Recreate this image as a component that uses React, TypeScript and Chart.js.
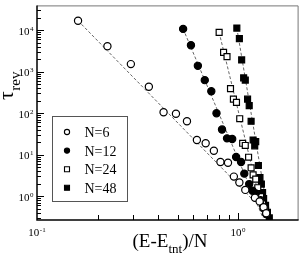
import React, { useEffect, useRef } from "react";
import { Chart, registerables } from "chart.js";
Chart.register(...registerables);

// ---- data ----
const seriesLabels = ["N=6", "N=12", "N=24", "N=48"];

const n6X = [0.16, 0.224, 0.293, 0.36, 0.426, 0.491, 0.557, 0.624, 0.69, 0.758, 0.817, 0.891, 0.953, 1.015, 1.086, 1.213, 1.28, 1.34, 1.38];
const n6Y = [17000, 4140, 1530, 437, 106, 97, 64, 22.7, 18.9, 12.5, 6.7, 6.4, 2.97, 2.14, 1.42, 0.92, 0.75, 0.54, 0.39];

const n12X = [0.533, 0.583, 0.631, 0.683, 0.736, 0.781, 0.832, 0.881, 0.935, 0.978, 1.035, 1.074, 1.136, 1.18, 1.224, 1.295, 1.34, 1.38];
const n12Y = [10800, 4370, 1390, 628, 338, 100, 40.5, 24.8, 24, 8.8, 6.7, 3.5, 1.96, 1.36, 1.16, 0.8, 0.51, 0.37];

const n24X = [0.805, 0.847, 0.881, 0.917, 0.948, 0.982, 1.019, 1.054, 1.086, 1.128, 1.161, 1.188, 1.224, 1.253, 1.295, 1.324, 1.37];
const n24Y = [8870, 2940, 2320, 392, 219, 183, 73.8, 18.9, 16.7, 8.7, 4.85, 3.26, 2.58, 1.6, 0.98, 0.67, 0.46];

const n48X = [0.986, 1.015, 1.042, 1.066, 1.086, 1.115, 1.136, 1.161, 1.188, 1.224, 1.21, 1.262, 1.285, 1.306, 1.324, 1.34, 1.37, 1.4, 1.43];
const n48Y = [11300, 6300, 1930, 713, 628, 219, 153, 64, 22.7, 20.7, 16.4, 5.5, 2.81, 1.96, 1.22, 0.88, 0.6, 0.41, 0.3];

const fit6X = [0.16, 1.45];
const fit6Y = [17000, 0.3];
const fit12X = [0.533, 1.33];
const fit12Y = [10800, 0.3];
const fit24X = [0.805, 1.35];
const fit24Y = [8870, 0.3];
const fit48X = [0.986, 1.42];
const fit48Y = [11300, 0.3];

const xMin = 0.1;
const xMax = 2;
const yMin = 0.267;
const yMax = 39800;
const xDecades = [-1, 0];
const yDecades = [-1, 0, 1, 2, 3, 4];

const SERIF = "'Liberation Serif', 'Times New Roman', serif";

const pts = (xs: number[], ys: number[]) => xs.map((x, i) => ({ x, y: ys[i] }));

const markerStyles = [
  { style: "circle", fill: "#ffffff", r: 3.6 },
  { style: "circle", fill: "#000000", r: 3.6 },
  { style: "rect", fill: "#ffffff", r: 4.2 },
  { style: "rect", fill: "#000000", r: 4.2 },
];

function drawPow(ctx: CanvasRenderingContext2D, x: number, baseY: number, exp: string, align: "center" | "right") {
  ctx.font = `11px ${SERIF}`;
  const wb = ctx.measureText("10").width;
  ctx.font = `7px ${SERIF}`;
  const we = ctx.measureText(exp).width;
  const total = wb + we + 0.5;
  const start = align === "center" ? x - total / 2 : x - total;
  ctx.textAlign = "left";
  ctx.textBaseline = "alphabetic";
  ctx.font = `11px ${SERIF}`;
  ctx.fillText("10", start, baseY);
  ctx.font = `7px ${SERIF}`;
  ctx.fillText(exp, start + wb + 0.5, baseY - 4);
}

const decoPlugin = {
  id: "deco",
  afterDraw(chart: any) {
    const ctx: CanvasRenderingContext2D = chart.ctx;
    const { left, right, top, bottom } = chart.chartArea;
    const xs = chart.scales.x;
    const ys = chart.scales.y;
    ctx.save();
    // frame
    ctx.strokeStyle = "#777";
    ctx.lineWidth = 1;
    ctx.beginPath();
    ctx.moveTo(left, top + 0.5);
    ctx.lineTo(right - 0.5, top + 0.5);
    ctx.lineTo(right - 0.5, bottom);
    ctx.stroke();
    ctx.strokeStyle = "#000";
    ctx.lineWidth = 1.5;
    ctx.beginPath();
    ctx.moveTo(left, top);
    ctx.lineTo(left, bottom);
    ctx.lineTo(right, bottom);
    ctx.stroke();
    // ticks
    ctx.lineWidth = 1;
    ctx.strokeStyle = "#000";
    ctx.beginPath();
    for (const d of xDecades) {
      for (let m = 1; m <= 9; m++) {
        const v = m * Math.pow(10, d);
        if (v <= xMin || v >= xMax) continue;
        const px = Math.round(xs.getPixelForValue(v)) + 0.5;
        const len = m === 1 ? 7 : 5;
        ctx.moveTo(px, bottom);
        ctx.lineTo(px, bottom - len);
      }
    }
    for (const d of yDecades) {
      for (let m = 1; m <= 9; m++) {
        const v = m * Math.pow(10, d);
        if (v <= yMin || v >= yMax) continue;
        const py = Math.round(ys.getPixelForValue(v)) + 0.5;
        const len = m === 1 ? 7 : 4;
        ctx.moveTo(left, py);
        ctx.lineTo(left + len, py);
      }
    }
    ctx.stroke();
    // tick labels
    ctx.fillStyle = "#000";
    for (const d of xDecades) {
      const v = Math.pow(10, d);
      const px = xs.getPixelForValue(v);
      drawPow(ctx, px, 235.5, String(d), "center");
    }
    for (const d of yDecades) {
      const v = Math.pow(10, d);
      if (v < yMin || v > yMax) continue;
      const py = ys.getPixelForValue(v);
      drawPow(ctx, 33.5, py + 4.5, String(d), "right");
    }
    // x title
    ctx.textAlign = "left";
    ctx.textBaseline = "alphabetic";
    ctx.font = `19px ${SERIF}`;
    const p1 = "(E-E";
    const p3 = ")/N";
    const w1 = ctx.measureText(p1).width;
    const w3 = ctx.measureText(p3).width;
    ctx.font = `13px ${SERIF}`;
    const w2 = ctx.measureText("tnt").width;
    const tot = w1 + w2 + w3;
    let sx = 170 - tot / 2;
    ctx.font = `19px ${SERIF}`;
    ctx.fillText(p1, sx, 246.5);
    ctx.font = `13px ${SERIF}`;
    ctx.fillText("tnt", sx + w1, 252.5);
    ctx.font = `19px ${SERIF}`;
    ctx.fillText(p3, sx + w1 + w2, 246.5);
    // y title
    ctx.save();
    ctx.translate(13, 100);
    ctx.rotate(-Math.PI / 2);
    ctx.font = `22px ${SERIF}`;
    const wt = ctx.measureText("τ").width;
    ctx.fillText("τ", 0, 0);
    ctx.font = `15px ${SERIF}`;
    ctx.fillText("rev", wt + 0.5, 6.5);
    ctx.restore();
    // legend
    ctx.strokeStyle = "#555";
    ctx.lineWidth = 1;
    ctx.fillStyle = "#fff";
    ctx.fillRect(52.5, 116.5, 75, 85);
    ctx.strokeRect(52.5, 116.5, 75, 85);
    seriesLabels.forEach((lab, i) => {
      const cy = 132 + i * 18.6;
      const ms = markerStyles[i];
      ctx.fillStyle = ms.fill;
      ctx.strokeStyle = "#000";
      ctx.lineWidth = 1.1;
      ctx.beginPath();
      if (ms.style === "circle") {
        ctx.arc(67, cy, 2.6, 0, Math.PI * 2);
      } else {
        ctx.rect(64.5, cy - 2.5, 5, 5);
      }
      ctx.fill();
      ctx.stroke();
      ctx.fillStyle = "#000";
      ctx.font = `14px ${SERIF}`;
      ctx.textAlign = "left";
      ctx.textBaseline = "alphabetic";
      ctx.fillText(lab, 84.5, cy + 5);
    });
    ctx.restore();
  },
};

export default function App() {
  const ref = useRef<HTMLCanvasElement | null>(null);
  useEffect(() => {
    if (!ref.current) return;
    const markerSets = [
      pts(n6X, n6Y),
      pts(n12X, n12Y),
      pts(n24X, n24Y),
      pts(n48X, n48Y),
    ];
    const fitSets = [
      pts(fit6X, fit6Y),
      pts(fit12X, fit12Y),
      pts(fit24X, fit24Y),
      pts(fit48X, fit48Y),
    ];
    const datasets: any[] = [];
    markerSets.forEach((data, i) => {
      const ms = markerStyles[i];
      datasets.push({
        label: seriesLabels[i],
        data,
        showLine: false,
        pointStyle: ms.style,
        pointRadius: ms.r,
        pointBackgroundColor: ms.fill,
        pointBorderColor: "#000",
        pointBorderWidth: 1.2,
        order: 1,
      });
    });
    fitSets.forEach((data, i) => {
      datasets.push({
        label: "fit " + seriesLabels[i],
        data,
        showLine: true,
        pointRadius: 0,
        borderColor: "#666",
        borderWidth: 1,
        borderDash: [3, 2],
        fill: false,
        order: 2,
      });
    });
    const chart = new Chart(ref.current, {
      type: "scatter",
      data: { datasets },
      options: {
        responsive: false,
        animation: false,
        events: [],
        layout: { padding: { left: 37, top: 1, right: 1, bottom: 35 } },
        plugins: { legend: { display: false }, tooltip: { enabled: false } },
        scales: {
          x: { type: "logarithmic", min: xMin, max: xMax, display: false },
          y: { type: "logarithmic", min: yMin, max: yMax, display: false },
        },
      },
      plugins: [decoPlugin],
    } as any);
    return () => chart.destroy();
  }, []);
  return (
    <div style={{ position: "absolute", left: 0, top: 0, width: 304, height: 255, background: "#fff" }}>
      <canvas ref={ref} width={304} height={255} style={{ display: "block" }} />
    </div>
  );
}
